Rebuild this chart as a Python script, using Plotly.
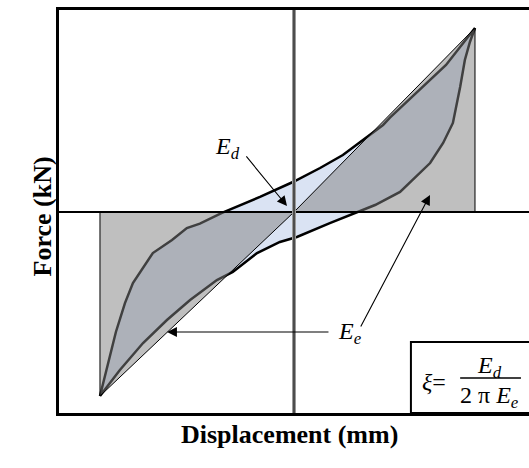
import plotly.graph_objects as go

# 滞回曲线（示意）：上升段 / 下降段，位移 mm，力 kN
disp_upper = [-53.6, -49.2, -46.7, -44.5, -39.0, -33.7, -29.6, -26.0, -19.9, -9.4, -0.3,
              7.2, 13.5, 20.2, 24.6, 26.5, 34.5, 42.0, 50.0]
force_upper = [-100.0, -65.2, -49.5, -38.6, -22.3, -15.2, -8.7, -6.3, -0.5, 8.2, 16.3,
               23.9, 31.0, 40.8, 47.3, 51.3, 66.3, 79.9, 100.0]
disp_lower = [50.0, 48.6, 47.2, 45.9, 43.9, 41.2, 37.6, 29.3, 22.4, 17.4, 9.9, 0.8,
              -3.9, -10.2, -16.9, -21.3, -28.7, -35.1, -41.7, -48.1, -53.6]
force_lower = [100.0, 92.4, 82.6, 67.9, 48.4, 37.5, 26.6, 10.9, 3.8, 0.0, -6.0, -13.6,
               -16.3, -22.3, -32.6, -37.0, -47.8, -58.7, -71.2, -85.9, -100.0]

# 峰值点（弹性应变能三角形）
peak_disp = [-53.6, 50.0]
peak_force = [-100.0, 100.0]

x_range = [-64.92, 64.92]
y_range = [-109.24, 109.78]

serif = "Liberation Serif, Times New Roman, serif"

fig = go.Figure()

# 滞回环 E_d
fig.add_trace(go.Scatter(
    x=disp_upper + disp_lower[1:], y=force_upper + force_lower[1:],
    mode="lines", fill="toself", fillcolor="#dae3f3",
    line=dict(color="black", width=2.5), hoverinfo="skip"))

# 三角形 E_e（半透明灰）
for xp, yp in zip(peak_disp, peak_force):
    fig.add_trace(go.Scatter(
        x=[0, xp, xp, 0], y=[0, yp, 0, 0],
        mode="lines", fill="toself", fillcolor="rgba(128,128,128,0.5)",
        line=dict(color="black", width=1), hoverinfo="skip"))

shapes = [
    dict(type="line", xref="x", yref="y", x0=x_range[0], x1=x_range[1], y0=0, y1=0,
         line=dict(color="black", width=2), layer="above"),
    dict(type="line", xref="x", yref="y", x0=0, x1=0, y0=y_range[0], y1=y_range[1],
         line=dict(color="#9a9a9a", width=4), layer="above"),
    dict(type="line", xref="x", yref="y", x0=0, x1=0, y0=y_range[0], y1=y_range[1],
         line=dict(color="#333333", width=1.5), layer="above"),
    # 公式框
    dict(type="rect", xref="x", yref="y", x0=32.3, x1=70, y0=y_range[0], y1=-70.65,
         line=dict(color="black", width=2), fillcolor="white", layer="above"),
    dict(type="line", xref="x", yref="y", x0=45.9, x1=62.7, y0=-90.2, y1=-90.2,
         line=dict(color="black", width=1.5), layer="above"),
]

arr = dict(showarrow=True, arrowhead=2, arrowsize=1.8, arrowwidth=1.1, arrowcolor="black",
           axref="x", ayref="y", text="")
lab = dict(family=serif, size=24, color="black")
annotations = [
    dict(x=-1.93, y=3.26, ax=-13.5, ay=31.0, **arr),
    dict(x=-35.08, y=-65.22, ax=9.94, ay=-65.22, **arr),
    dict(x=37.57, y=9.24, ax=18.23, ay=-63.04, **arr),
    dict(x=-18.3, y=34.8, text="<i>E</i><sub><i>d</i></sub>", showarrow=False, font=lab),
    dict(x=15.4, y=-66.0, text="<i>E</i><sub><i>e</i></sub>", showarrow=False, font=lab),
    dict(x=38.7, y=-92.3, text="<i>ξ</i>=", showarrow=False, font=lab),
    dict(x=53.9, y=-84.0, text="<i>E</i><sub><i>d</i></sub>", showarrow=False, font=lab),
    dict(x=54.0, y=-100.5, text="2 π <i>E</i><sub><i>e</i></sub>", showarrow=False, font=lab),
    dict(xref="paper", yref="paper", x=0.4904, y=-0.0943, text="<b>Displacement (mm)</b>",
         showarrow=False, font=dict(family=serif, size=26, color="black")),
    dict(xref="paper", yref="paper", x=-0.0702, y=0.4864, text="<b>Force (kN)</b>",
         textangle=-90, showarrow=False, font=dict(family=serif, size=26, color="black")),
]

fig.update_layout(
    width=529, height=468,
    margin=dict(l=59, r=0, t=10, b=55),
    paper_bgcolor="white", plot_bgcolor="white",
    showlegend=False,
    shapes=shapes, annotations=annotations,
    xaxis=dict(range=x_range, showgrid=False, zeroline=False, showticklabels=False,
               ticks="", showline=True, linecolor="black", linewidth=3, mirror=True),
    yaxis=dict(range=y_range, showgrid=False, zeroline=False, showticklabels=False,
               ticks="", showline=True, linecolor="black", linewidth=3),
)

# 去掉页面 body 默认的 8px 边距，不显示工具栏
fig.write_html("out.html", config={"displayModeBar": False},
               post_script="document.body.style.margin='0';")
